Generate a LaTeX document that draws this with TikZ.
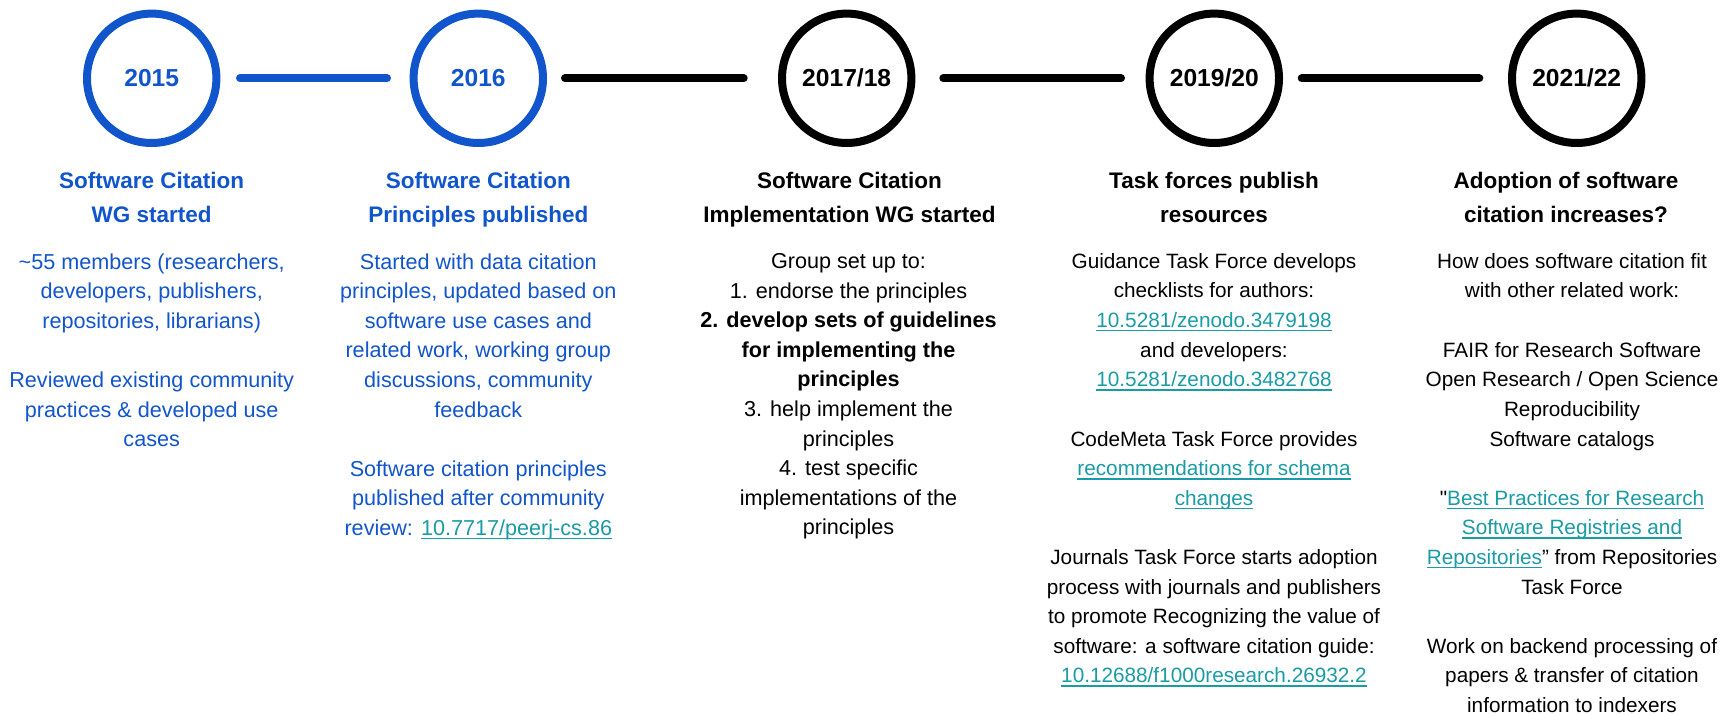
\documentclass[tikz,border=0pt]{standalone}
\usepackage{fontspec}
\setmainfont{Liberation Sans}
\usepackage{tikz}
\usetikzlibrary{positioning}

\newsavebox{\linkbox}
\newcommand{\weblink}[1]{{\color{linkteal}\sbox{\linkbox}{#1}\rlap{\rule[-2.2pt]{\wd\linkbox}{0.9pt}}\usebox{\linkbox}}}
\newcommand{\straightquote}{\XeTeXglyph\XeTeXcharglyph"0022\relax}

\begin{document}
\begin{tikzpicture}[
    yearring/.style={circle, draw, line width=0.16cm, minimum size=2.588cm, inner sep=0, outer sep=0,
      font=\bfseries\fontsize{14}{16}\selectfont},
    timeline/.style={line width=0.16cm, line cap=round},
    headtext/.style={anchor=north, align=center, inner sep=0, font=\bfseries\fontsize{12.8}{19.4}\selectfont},
    bodytext/.style={anchor=north, align=center, inner sep=0, font=\fontsize{12.3}{16.85}\selectfont},
    smalltext/.style={bodytext, font=\fontsize{11.8}{16.85}\selectfont}]
  \definecolor{sciblue}{HTML}{1155CC}
  \definecolor{linkteal}{HTML}{1A9BA5}

  \useasboundingbox (0,0) rectangle (34.7,14.28);

  % years
  \node[yearring, draw=sciblue, text=sciblue] (y2015) at (3.034,12.714) {2015};
  \node[yearring, draw=sciblue, text=sciblue] (y2016) at (9.566,12.714) {2016};
  \node[yearring] (y2017) at (16.934,12.714) {2017/18};
  \node[yearring] (y2019) at (24.286,12.714) {2019/20};
  \node[yearring] (y2021) at (31.534,12.714) {2021/22};

  \draw[timeline, sciblue, shorten <=0.472cm, shorten >=0.532cm] (y2015) -- (y2016);
  \draw[timeline, shorten <=0.44cm, shorten >=0.766cm] (y2016) -- (y2017);
  \draw[timeline, shorten <=0.638cm, shorten >=0.572cm] (y2017) -- (y2019);
  \draw[timeline, shorten <=0.454cm, shorten >=0.654cm] (y2019) -- (y2021);

  % 2015
  \node[headtext, text=sciblue] (h2015) at (3.034,10.85) {Software Citation\\WG started};
  \node[bodytext, text=sciblue] (b2015) at (3.034,9.22) {\textasciitilde55 members (researchers,\\developers, publishers,\\repositories, librarians)\\[16.85pt]Reviewed existing community\\practices \& developed use\\cases};

  % 2016
  \node[headtext, text=sciblue] (h2016) at (9.566,10.85) {Software Citation\\Principles published};
  \node[bodytext, text=sciblue] (b2016) at (9.566,9.22) {Started with data citation\\principles, updated based on\\software use cases and\\related work, working group\\discussions, community\\feedback\\[16.85pt]Software citation principles\\published after community\\review: \weblink{10.7717/peerj-cs.86}};

  % 2017/18
  \node[headtext] (h2017) at (16.99,10.85) {Software Citation\\Implementation WG started};
  \node[bodytext] (b2017) at (16.97,9.22) {Group set up to:\\1. endorse the principles\\\textbf{2. develop sets of guidelines}\\\textbf{for implementing the}\\\textbf{principles}\\3. help implement the\\principles\\4. test specific\\implementations of the\\principles};

  % 2019/20
  \node[headtext] (h2019) at (24.28,10.85) {Task forces publish\\resources};
  \node[smalltext] (b2019) at (24.28,9.22) {Guidance Task Force develops\\checklists for authors:\\\weblink{10.5281/zenodo.3479198}\\and developers:\\\weblink{10.5281/zenodo.3482768}\\[16.85pt]CodeMeta Task Force provides\\\weblink{recommendations for schema}\\\weblink{changes}\\[16.85pt]Journals Task Force starts adoption\\process with journals and publishers\\to promote Recognizing the value of\\software: a software citation guide:\\\weblink{10.12688/f1000research.26932.2}};

  % 2021/22
  \node[headtext] (h2021) at (31.32,10.85) {Adoption of software\\citation increases?};
  \node[smalltext] (b2021) at (31.44,9.22) {How does software citation fit\\with other related work:\\[16.85pt]FAIR for Research Software\\Open Research / Open Science\\Reproducibility\\Software catalogs\\[16.85pt]\straightquote\weblink{Best Practices for Research}\\\weblink{Software Registries and}\\\weblink{Repositories}” from Repositories\\Task Force\\[16.85pt]Work on backend processing of\\papers \& transfer of citation\\information to indexers};
\end{tikzpicture}
\end{document}
